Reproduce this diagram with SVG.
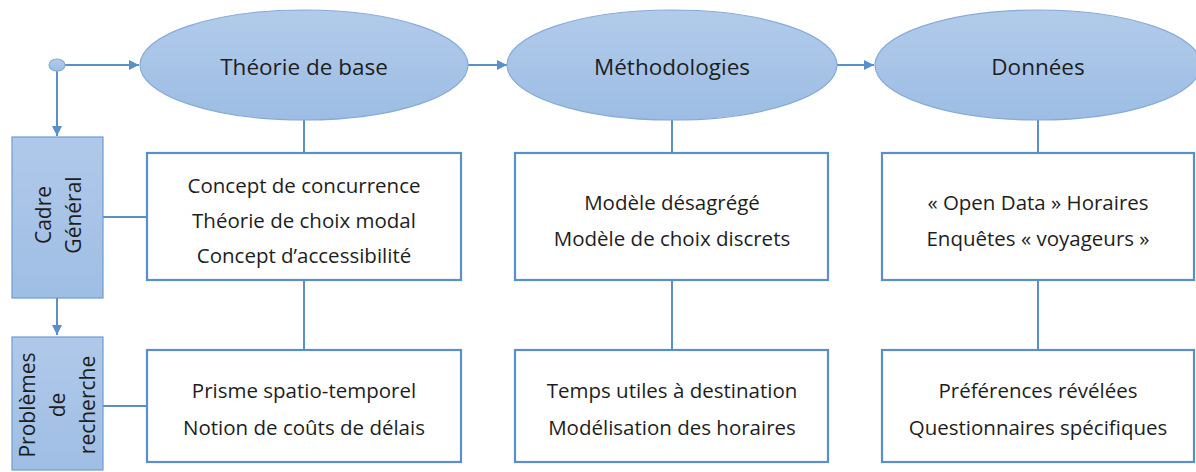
<svg xmlns="http://www.w3.org/2000/svg" width="1196" height="472" viewBox="0 0 1196 472">
<style>
  .ell{fill:url(#eg);stroke:#86abd8;stroke-width:1.2}
  .side{fill:url(#sg);stroke:#6f9bd0;stroke-width:1.2}
  .box{fill:#fff;stroke:#5b8fc9;stroke-width:2.2}
  .ln{stroke:#5b8fc9;stroke-width:2;fill:none}
  .t{font-family:"Open Sans","Liberation Sans",sans-serif;fill:#1e1e1e;text-anchor:middle;dominant-baseline:central}
  .h{font-size:22.5px}
  .s{font-size:21px}
  .b{font-size:20.5px}
</style>
<defs>
  <linearGradient id="eg" x1="0" y1="0" x2="0" y2="1">
    <stop offset="0" stop-color="#b2cbea"/>
    <stop offset="1" stop-color="#9dbde4"/>
  </linearGradient>
  <linearGradient id="sg" x1="0" y1="0" x2="0" y2="1">
    <stop offset="0" stop-color="#b0c9ea"/>
    <stop offset="1" stop-color="#9fbee4"/>
  </linearGradient>
  <marker id="ar" viewBox="0 0 10 10" refX="10" refY="5" markerWidth="5" markerHeight="5" orient="auto" markerUnits="strokeWidth">
    <path d="M0,0 L10,5 L0,10 z" fill="#5b8fc9"/>
  </marker>
</defs>
<rect width="1196" height="472" fill="#fff"/>
<g id="connectors">
  <line class="ln" x1="57" y1="65" x2="139" y2="65" marker-end="url(#ar)"/>
  <line class="ln" x1="57" y1="65" x2="57" y2="136" marker-end="url(#ar)"/>
  <line class="ln" x1="57" y1="298" x2="57" y2="335" marker-end="url(#ar)"/>
  <line class="ln" x1="468" y1="65" x2="507" y2="65" marker-end="url(#ar)"/>
  <line class="ln" x1="837" y1="65" x2="874" y2="65" marker-end="url(#ar)"/>
  <line class="ln" x1="304" y1="120" x2="304" y2="153"/>
  <line class="ln" x1="672" y1="120" x2="672" y2="153"/>
  <line class="ln" x1="1038" y1="120" x2="1038" y2="153"/>
  <line class="ln" x1="304" y1="280" x2="304" y2="350"/>
  <line class="ln" x1="672" y1="280" x2="672" y2="350"/>
  <line class="ln" x1="1038" y1="280" x2="1038" y2="350"/>
  <line class="ln" x1="103" y1="217" x2="147" y2="217"/>
  <line class="ln" x1="103" y1="406" x2="147" y2="406"/>
</g>
<g id="start"><ellipse cx="57" cy="65" rx="8" ry="6" class="ell"/></g>
<g id="e1"><ellipse cx="304" cy="65" rx="164" ry="55" class="ell"/><text class="t h" x="304" y="66">Théorie de base</text></g>
<g id="e2"><ellipse cx="672" cy="65" rx="165" ry="55" class="ell"/><text class="t h" x="672" y="66">Méthodologies</text></g>
<g id="e3"><ellipse cx="1038" cy="65" rx="163" ry="55" class="ell"/><text class="t h" x="1038" y="66">Données</text></g>
<g id="cadre"><rect class="side" x="12" y="137" width="91" height="161"/>
  <text class="t s" transform="translate(58,215) rotate(-90)"><tspan x="0" y="-15">Cadre</tspan><tspan x="0" y="15">Général</tspan></text></g>
<g id="problemes"><rect class="side" x="12" y="337" width="91" height="133"/>
  <text class="t s" transform="translate(57,405) rotate(-90)"><tspan x="0" y="-30">Problèmes</tspan><tspan x="0" y="0">de</tspan><tspan x="0" y="30">recherche</tspan></text></g>
<g id="b1"><rect class="box" x="147" y="153" width="314" height="127"/>
  <text class="t b" x="304" y="185">Concept de concurrence</text>
  <text class="t b" x="304" y="220">Théorie de choix modal</text>
  <text class="t b" x="304" y="255">Concept d’accessibilité</text></g>
<g id="b2"><rect class="box" x="515" y="153" width="313" height="127"/>
  <text class="t b" x="672" y="202">Modèle désagrégé</text>
  <text class="t b" x="672" y="238">Modèle de choix discrets</text></g>
<g id="b3"><rect class="box" x="882" y="153" width="312" height="127"/>
  <text class="t b" x="1038" y="202">« Open Data » Horaires</text>
  <text class="t b" x="1038" y="238">Enquêtes « voyageurs »</text></g>
<g id="b4"><rect class="box" x="147" y="350" width="314" height="112"/>
  <text class="t b" x="304" y="390">Prisme spatio-temporel</text>
  <text class="t b" x="304" y="427">Notion de coûts de délais</text></g>
<g id="b5"><rect class="box" x="515" y="350" width="313" height="112"/>
  <text class="t b" x="672" y="390">Temps utiles à destination</text>
  <text class="t b" x="672" y="427">Modélisation des horaires</text></g>
<g id="b6"><rect class="box" x="882" y="350" width="312" height="112"/>
  <text class="t b" x="1038" y="390">Préférences révélées</text>
  <text class="t b" x="1038" y="427">Questionnaires spécifiques</text></g>
</svg>
